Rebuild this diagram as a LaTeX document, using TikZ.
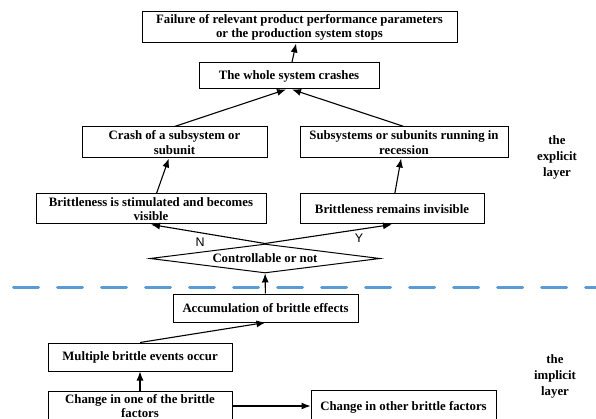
\documentclass[tikz,border=0pt]{standalone}
\usepackage{fontspec}
\setmainfont{Liberation Serif}
\setsansfont{Liberation Sans}
\usetikzlibrary{shapes.geometric,arrows.meta}
\definecolor{layerblue}{RGB}{91,155,213}
\begin{document}
\begin{tikzpicture}[x=1pt,y=-1pt,
  box/.style={draw,line width=1pt,align=center,inner sep=1pt,
    font=\bfseries\fontsize{12.8}{14.5}\selectfont},
  arr/.style={-{Latex[length=9pt,width=7pt]},line width=1.1pt},
  layer/.style={align=center,font=\bfseries\fontsize{12.8}{16}\selectfont},
  yn/.style={font=\sffamily\fontsize{12.5}{13}\selectfont}]
\useasboundingbox (0,0) rectangle (596,419);
\node[box,minimum width=315pt,minimum height=31pt] (fail) at (299.5,27.5)
  {Failure of relevant product performance parameters\\or the production system stops};
\node[box,minimum width=180pt,minimum height=26pt] (whole) at (289,76) {The whole system crashes};
\node[box,minimum width=185pt,minimum height=31pt] (crash) at (174.5,142.5) {Crash of a subsystem or\\subunit};
\node[box,minimum width=208pt,minimum height=31pt] (recess) at (404,142.5) {Subsystems or subunits running in\\recession};
\node[box,minimum width=230pt,minimum height=30pt] (vis) at (151,209) {Brittleness is stimulated and becomes\\visible};
\node[box,minimum width=184pt,minimum height=30pt] (invis) at (392,209) {Brittleness remains invisible};
\node[box,diamond,aspect=7.9,inner sep=0pt,minimum width=230pt,minimum height=29pt] (cond) at (265,258.5) {Controllable or not};
\node[box,minimum width=185pt,minimum height=28pt] (accu) at (265.5,308) {Accumulation of brittle effects};
\node[box,minimum width=184pt,minimum height=28pt] (multi) at (140,357) {Multiple brittle events occur};
\node[box,minimum width=184pt,minimum height=30pt] (chg) at (140,406) {Change in one of the brittle\\factors};
\node[box,minimum width=185pt,minimum height=34pt] (other) at (403.5,407) {Change in other brittle factors};
\node[layer] (explicit) at (557,157) {the\\explicit\\layer};
\node[layer] (implicit) at (555,376) {the\\implicit\\layer};
\draw[layerblue,line width=3pt,line cap=round,dash pattern=on 25pt off 19pt] (13.5,287) -- (600,287);
\draw[arr] (whole) -- (fail);
\draw[arr] (crash.north) -- ([xshift=-3pt]whole.south);
\draw[arr] (recess.north) -- ([xshift=3pt]whole.south);
\draw[arr] (vis) -- (crash);
\draw[arr] (invis) -- (recess);
\draw[arr] (cond.north) -- node[yn,pos=0.57,below=1pt]{N} (vis.south);
\draw[arr] (cond.north) -- node[yn,pos=0.74,below=1pt]{Y} (invis.south);
\draw[arr] (accu) -- (cond);
\draw[arr] (multi.north) -- (accu.south);
\draw[arr] (chg) -- (multi);
\draw[arr] (chg.east) -- (chg.east -| other.west);
\end{tikzpicture}
\end{document}
